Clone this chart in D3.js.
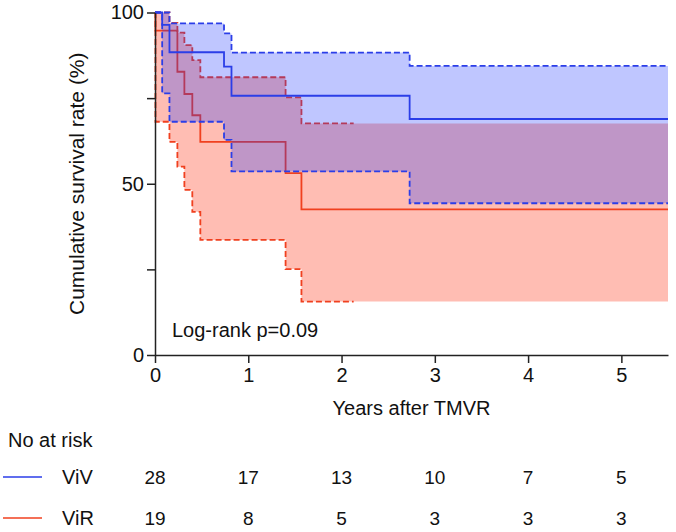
<!DOCTYPE html>
<html>
<head>
<meta charset="utf-8">
<script src="https://cdn.jsdelivr.net/npm/d3@7"></script>
<style>
  body { margin: 0; background: #fff; }
  svg text { font-family: "Liberation Sans", Arial, sans-serif; fill: #111; }
</style>
</head>
<body>
<svg id="chart" width="676" height="532"></svg>
<script>
// ViV group (times in years, survival in %)
const vivTime  = [0, 0.077, 0.155, 0.74, 0.82, 2.73];
const vivSurv  = [100, 96.4, 88.4, 84.2, 75.7, 68.9];
const vivUpper = [100, 100, 96.8, 93.9, 88.3, 84.4];
const vivLower = [100, 76.4, 68.1, 62.8, 53.6, 44.3];

// ViR group
const virTime  = [0, 0.005, 0.155, 0.24, 0.315, 0.40, 0.486, 1.40, 1.57];
const virSurv  = [100, 94.7, 94.7, 82.7, 76.2, 70.0, 62.2, 53.1, 42.5];
const virUpper = [100, 100, 97.0, 94.1, 90.5, 86.1, 81.1, 75.2, 67.6];
const virLower = [100, 68.1, 62.2, 55.0, 48.2, 41.8, 33.6, 25.1, 15.6];

const followEnd = 5.5;   // curves and bands run to end of axis
const virCiEnd = 2.13;   // ViR dashed CI lines stop here

// numbers at risk
const riskTimes = [0, 1, 2, 3, 4, 5];
const vivRisk = [28, 17, 13, 10, 7, 5];
const virRisk = [19, 8, 5, 3, 3, 3];

const yTicks = [0, 25, 50, 75, 100];
const yLabels = [0, 50, 100];
const xTicks = [0, 1, 2, 3, 4, 5];

const blue = "#2b3ee8", red = "#f0401f";

const svg = d3.select("#chart");

const x = d3.scaleLinear().domain([0, 5.5]).range([155, 668]);
const y = d3.scaleLinear().domain([0, 100]).range([355, 12.5]);

function pts(times, vals, end) {
  let p = times.map((t, i) => ({t: t, v: vals[i]}));
  p.push({t: end, v: vals[vals.length - 1]});
  return p;
}
function bandPts(times, lo, hi, end) {
  let p = times.map((t, i) => ({t: t, lo: lo[i], hi: hi[i]}));
  p.push({t: end, lo: lo[lo.length - 1], hi: hi[hi.length - 1]});
  return p;
}

const line = d3.line().curve(d3.curveStepAfter)
  .x(d => x(d.t)).y(d => y(d.v));
const area = d3.area().curve(d3.curveStepAfter)
  .x(d => x(d.t)).y0(d => y(d.lo)).y1(d => y(d.hi));

// ViR band + lines first, ViV translucent band on top
svg.append("path")
  .attr("d", area(bandPts(virTime, virLower, virUpper, followEnd)))
  .attr("fill", "#ffbdb3");

[virUpper, virLower].forEach(v => {
  svg.append("path")
    .attr("d", line(pts(virTime, v, virCiEnd)))
    .attr("fill", "none")
    .attr("stroke", red)
    .attr("stroke-width", 1.8)
    .attr("stroke-dasharray", "6,3");
});
svg.append("path")
  .attr("d", line(pts(virTime, virSurv, followEnd)))
  .attr("fill", "none")
  .attr("stroke", red)
  .attr("stroke-width", 1.8);

svg.append("path")
  .attr("d", area(bandPts(vivTime, vivLower, vivUpper, followEnd)))
  .attr("fill", "rgb(20,45,255)")
  .attr("fill-opacity", 0.27);

[vivUpper, vivLower].forEach(v => {
  svg.append("path")
    .attr("d", line(pts(vivTime, v, followEnd)))
    .attr("fill", "none")
    .attr("stroke", blue)
    .attr("stroke-width", 1.8)
    .attr("stroke-dasharray", "6,3");
});
svg.append("path")
  .attr("d", line(pts(vivTime, vivSurv, followEnd)))
  .attr("fill", "none")
  .attr("stroke", blue)
  .attr("stroke-width", 1.8);

// axes
const yAxis = d3.axisLeft(y)
  .tickValues(yTicks)
  .tickSize(8)
  .tickSizeOuter(0)
  .tickPadding(3)
  .tickFormat(d => yLabels.includes(d) ? d : "");

const xAxis = d3.axisBottom(x)
  .tickValues(xTicks)
  .tickSize(8)
  .tickSizeOuter(0)
  .tickPadding(5)
  .tickFormat(d3.format("d"));

const gy = svg.append("g")
  .attr("transform", "translate(" + x(0) + ",0)")
  .call(yAxis);
const gx = svg.append("g")
  .attr("transform", "translate(0," + y(0) + ")")
  .call(xAxis);

[gx, gy].forEach(g => {
  g.selectAll("path, line").attr("stroke", "#222").attr("stroke-width", 1.5);
  g.selectAll("text").attr("font-size", 20).attr("font-family", null).attr("fill", "#111");
});

svg.append("text")
  .attr("transform", "translate(84," + y(50) + ") rotate(-90)")
  .attr("text-anchor", "middle")
  .attr("font-size", 21)
  .text("Cumulative survival rate (%)");

svg.append("text")
  .attr("x", x(2.75))
  .attr("y", 415)
  .attr("text-anchor", "middle")
  .attr("font-size", 20)
  .text("Years after TMVR");

svg.append("text")
  .attr("x", 172)
  .attr("y", 337)
  .attr("font-size", 20)
  .text("Log-rank p=0.09");

// number at risk table
svg.append("text")
  .attr("x", 8)
  .attr("y", 447)
  .attr("font-size", 20)
  .text("No at risk");

const rows = [
  {name: "ViV", color: blue, vals: vivRisk, y: 477},
  {name: "ViR", color: red, vals: virRisk, y: 518}
];

rows.forEach(r => {
  svg.append("line")
    .attr("x1", 3).attr("x2", 42)
    .attr("y1", r.y).attr("y2", r.y)
    .attr("stroke", r.color)
    .attr("stroke-width", 1.5);
  svg.append("text")
    .attr("x", 62)
    .attr("y", r.y + 7)
    .attr("font-size", 20)
    .text(r.name);
  svg.selectAll(null)
    .data(r.vals)
    .enter().append("text")
    .attr("x", (d, i) => x(riskTimes[i]))
    .attr("y", r.y + 7)
    .attr("text-anchor", "middle")
    .attr("font-size", 19)
    .text(d => d);
});
</script>
</body>
</html>
